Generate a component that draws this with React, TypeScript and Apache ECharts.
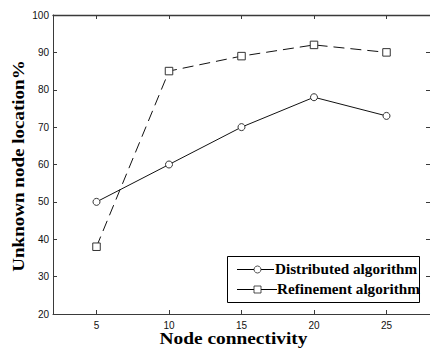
import React, { useEffect, useRef } from "react";
import * as echarts from "echarts";

const xValues = [5, 10, 15, 20, 25];
const distributed = [50, 60, 70, 78, 73];
const refinement = [38, 85, 89, 92, 90];
const xTicks = [5, 10, 15, 20, 25];
const seriesNames = ["Distributed algorithm", "Refinement algorithm"];
const xTitle = "Node connectivity";
const yTitle = "Unknown node location%";

export default function App() {
  const ref = useRef<HTMLDivElement>(null);
  useEffect(() => {
    document.body.style.margin = "0";
    const chart = echarts.init(ref.current!, null, { renderer: "svg" });
    const axisColor = "#3a3a3a";
    const labelStyle = { color: "#111", fontSize: 10, fontFamily: "Liberation Sans, Arial, sans-serif" };
    const serif = '"Liberation Serif", "Times New Roman", serif';
    chart.setOption({
      animation: false,
      backgroundColor: "#fff",
      grid: { left: 53, top: 15, width: 379, height: 299, containLabel: false },
      xAxis: [
        {
          type: "value", min: 2, max: 28, position: "bottom",
          axisLine: { show: true, lineStyle: { color: axisColor, width: 1 } },
          axisTick: { show: true, inside: true, length: 4, customValues: xTicks, lineStyle: { color: axisColor } },
          axisLabel: { show: true, customValues: xTicks, margin: 6, ...labelStyle },
          splitLine: { show: false },
        },
        {
          type: "value", min: 2, max: 28, position: "top",
          axisLine: { show: true, lineStyle: { color: axisColor, width: 1.3 } },
          axisTick: { show: true, inside: true, length: 4, customValues: xTicks, lineStyle: { color: axisColor } },
          axisLabel: { show: false },
          splitLine: { show: false },
        },
      ],
      yAxis: [
        {
          type: "value", min: 20, max: 100, interval: 10, position: "left",
          axisLine: { show: true, lineStyle: { color: axisColor, width: 1 } },
          axisTick: { show: true, inside: true, length: 4, lineStyle: { color: axisColor } },
          axisLabel: { show: true, margin: 4, ...labelStyle },
          splitLine: { show: false },
        },
        {
          type: "value", min: 20, max: 100, interval: 10, position: "right",
          axisLine: { show: true, lineStyle: { color: axisColor, width: 1 } },
          axisTick: { show: true, inside: true, length: 4, lineStyle: { color: axisColor } },
          axisLabel: { show: false },
          splitLine: { show: false },
        },
      ],
      series: [
        {
          name: seriesNames[0], type: "line",
          data: xValues.map((x, i) => [x, distributed[i]]),
          symbol: "circle", symbolSize: 7,
          lineStyle: { color: "#111", width: 1 },
          itemStyle: { color: "#fff", borderColor: "#333", borderWidth: 1 },
        },
        {
          name: seriesNames[1], type: "line",
          data: xValues.map((x, i) => [x, refinement[i]]),
          symbol: "rect", symbolSize: 7.5,
          lineStyle: { color: "#111", width: 1, type: [11, 6] },
          itemStyle: { color: "#fff", borderColor: "#333", borderWidth: 1 },
        },
      ],
      graphic: [
        {
          type: "text", x: 233.5, y: 338, scaleX: 1.14,
          style: { text: xTitle, font: `bold 17px ${serif}`, fill: "#000", textAlign: "center", verticalAlign: "middle" },
        },
        {
          type: "text", x: 18, y: 166, rotation: Math.PI / 2, scaleX: 1.12,
          style: { text: yTitle, font: `bold 17px ${serif}`, fill: "#000", textAlign: "center", verticalAlign: "middle" },
        },
        {
          type: "group",
          children: [
            { type: "rect", shape: { x: 227.5, y: 256.5, width: 192, height: 46 }, style: { fill: "#fff", stroke: "#000", lineWidth: 1 } },
            { type: "line", shape: { x1: 237, y1: 269.5, x2: 274, y2: 269.5 }, style: { stroke: "#000", lineWidth: 1 } },
            { type: "circle", shape: { cx: 257.5, cy: 269.5, r: 3.5 }, style: { fill: "#fff", stroke: "#222", lineWidth: 0.8 } },
            {
              type: "text", x: 275, y: 269.5, scaleX: 1.085,
              style: { text: seriesNames[0], font: `bold 14px ${serif}`, fill: "#000", textAlign: "left", verticalAlign: "middle" },
            },
            { type: "line", shape: { x1: 237, y1: 289.5, x2: 277, y2: 289.5 }, style: { stroke: "#000", lineWidth: 1 } },
            { type: "rect", shape: { x: 254, y: 286, width: 7, height: 7 }, style: { fill: "#fff", stroke: "#222", lineWidth: 0.8 } },
            {
              type: "text", x: 277, y: 289.5, scaleX: 1.085,
              style: { text: seriesNames[1], font: `bold 14px ${serif}`, fill: "#000", textAlign: "left", verticalAlign: "middle" },
            },
          ],
        },
      ],
    });
    return () => chart.dispose();
  }, []);
  return <div ref={ref} style={{ width: 430, height: 351 }} />;
}
